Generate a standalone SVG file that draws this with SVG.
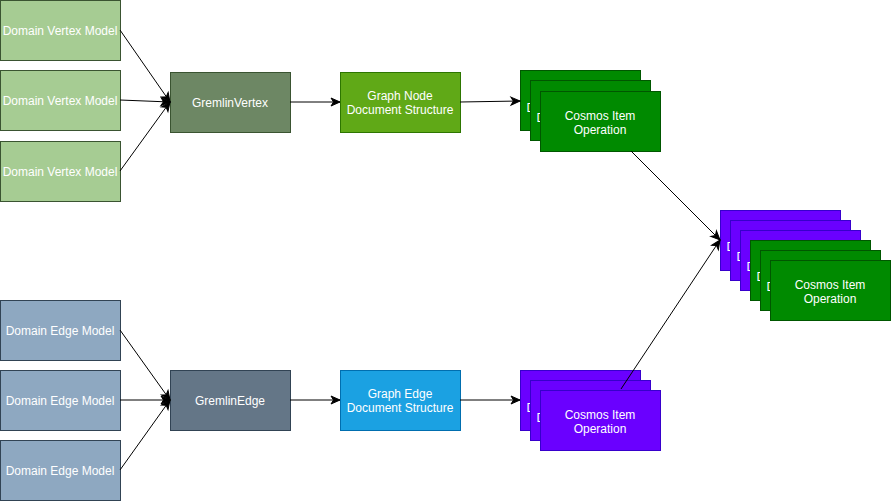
<svg xmlns="http://www.w3.org/2000/svg" width="891" height="501" viewBox="0 0 891 501">
<defs>
<marker id="arr" markerUnits="userSpaceOnUse" markerWidth="12" markerHeight="10" refX="10" refY="4.5" orient="auto" overflow="visible">
<path d="M1,0.5 L10,4.5 L1,8.5 L3.5,4.5 Z" fill="#000" stroke="#000" stroke-width="1"/>
</marker>
<style>
text{font-family:"Liberation Sans",Arial,sans-serif;font-size:12px;fill:#fff;text-anchor:middle}
.dv{fill:#a6cc93;stroke:#3a5431}
.gv{fill:#6d8764;stroke:#3a5431}
.de{fill:#8ea8c1;stroke:#314354}
.ge{fill:#647687;stroke:#314354}
.gn{fill:#60a917;stroke:#2d7600}
.gd{fill:#1ba1e2;stroke:#006eaf}
.cg{fill:#008a00;stroke:#005700}
.cp{fill:#6a00ff;stroke:#3700cc}
.c line{stroke:#000;stroke-width:1;fill:none;marker-end:url(#arr)}
.f{text-anchor:start}
</style>
</defs>
<rect width="891" height="501" fill="#fff"/>
<g id="domain-vertex-1"><rect class="dv" x="0.5" y="0.5" width="120" height="60"/><text x="60" y="34.5">Domain Vertex Model</text></g>
<g id="domain-vertex-2"><rect class="dv" x="0.5" y="70.5" width="120" height="60"/><text x="60" y="104.5">Domain Vertex Model</text></g>
<g id="domain-vertex-3"><rect class="dv" x="0.5" y="141.5" width="120" height="60"/><text x="60" y="175.5">Domain Vertex Model</text></g>
<g id="gremlin-vertex"><rect class="gv" x="170.5" y="72.5" width="120" height="60"/><text x="230" y="106.5">GremlinVertex</text></g>
<g id="graph-node-doc"><rect class="gn" x="340.5" y="72.5" width="120" height="60"/><text x="400" y="99.5">Graph Node</text><text x="400" y="113.5">Document Structure</text></g>
<g id="cosmos-vertex-stack">
<rect class="cg" x="520.5" y="70.5" width="120" height="60"/><text class="f" x="526.5" y="112">D</text>
<rect class="cg" x="530.5" y="80.5" width="120" height="60"/><text class="f" x="536.5" y="122">D</text>
<rect class="cg" x="540.5" y="91.5" width="120" height="60"/><text x="600" y="119.5">Cosmos Item</text><text x="600" y="133.5">Operation</text>
</g>
<g id="domain-edge-1"><rect class="de" x="0.5" y="300.5" width="120" height="60"/><text x="60" y="334.5">Domain Edge Model</text></g>
<g id="domain-edge-2"><rect class="de" x="0.5" y="370.5" width="120" height="60"/><text x="60" y="404.5">Domain Edge Model</text></g>
<g id="domain-edge-3"><rect class="de" x="0.5" y="440.5" width="120" height="60"/><text x="60" y="474.5">Domain Edge Model</text></g>
<g id="gremlin-edge"><rect class="ge" x="170.5" y="370.5" width="120" height="60"/><text x="230" y="404.5">GremlinEdge</text></g>
<g id="graph-edge-doc"><rect class="gd" x="340.5" y="370.5" width="120" height="60"/><text x="400" y="397.5">Graph Edge</text><text x="400" y="411.5">Document Structure</text></g>
<g id="cosmos-edge-stack">
<rect class="cp" x="520.5" y="370.5" width="120" height="60"/><text class="f" x="526.5" y="412">D</text>
<rect class="cp" x="530.5" y="380.5" width="120" height="60"/><text class="f" x="536.5" y="422">D</text>
<rect class="cp" x="540.5" y="390.5" width="120" height="60"/><text x="600" y="418.5">Cosmos Item</text><text x="600" y="432.5">Operation</text>
</g>
<g id="combined-stack">
<rect class="cp" x="720.5" y="210.5" width="120" height="60"/><text class="f" x="726.5" y="251">D</text>
<rect class="cp" x="730.5" y="220.5" width="120" height="60"/><text class="f" x="736.5" y="261">D</text>
<rect class="cp" x="740.5" y="230.5" width="120" height="60"/><text class="f" x="746.5" y="271">D</text>
<rect class="cg" x="750.5" y="240.5" width="120" height="60"/><text class="f" x="756.5" y="281">D</text>
<rect class="cg" x="760.5" y="250.5" width="120" height="60"/><text class="f" x="766.5" y="291">D</text>
<rect class="cg" x="770.5" y="260.5" width="120" height="60"/><text x="830" y="288.5">Cosmos Item</text><text x="830" y="302.5">Operation</text>
</g>
<g id="connectors" class="c">
<line x1="120" y1="30" x2="170" y2="102"/>
<line x1="120" y1="100" x2="170" y2="102"/>
<line x1="120" y1="171" x2="170" y2="102"/>
<line x1="290" y1="102" x2="340" y2="102"/>
<line x1="460" y1="102" x2="520" y2="101"/>
<line x1="120" y1="330" x2="170" y2="400"/>
<line x1="120" y1="400" x2="170" y2="400"/>
<line x1="120" y1="470" x2="170" y2="400"/>
<line x1="290" y1="400" x2="340" y2="400"/>
<line x1="460" y1="400" x2="520" y2="400"/>
<line x1="631" y1="151" x2="720" y2="240"/>
<line x1="621" y1="389" x2="720" y2="240"/>
</g>
</svg>
